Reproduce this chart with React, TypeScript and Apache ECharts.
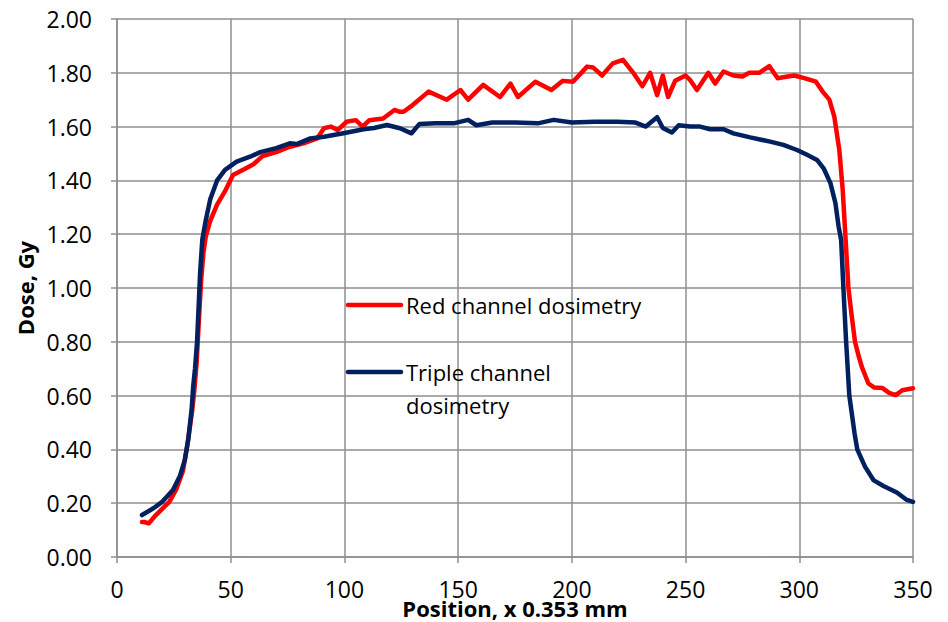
import React, { useEffect, useRef } from "react";
import * as echarts from "echarts";

const redName = "Red channel dosimetry";
const navyName = "Triple channel dosimetry";

const redX = [11, 12, 14, 17, 20, 23, 26, 29, 31, 33, 34, 35, 36, 37, 38, 39, 41, 44, 47.5, 51, 55.5, 60, 64, 70, 76, 82, 88, 91, 94, 97, 101, 105, 108, 111, 117, 122, 124.4, 126, 130, 137, 145, 151, 154.4, 161, 168.4, 173, 176.3, 184, 191, 196, 200.5, 206.7, 209.3, 213.3, 218, 222.5, 227, 231, 234.4, 237.5, 240, 242.3, 245.4, 250, 252, 255, 260, 263, 266.7, 271, 275, 278, 282.4, 286.8, 290.5, 294.2, 297.8, 302.2, 307.3, 310.3, 313.2, 315.4, 317.6, 319.1, 320.3, 321.6, 323, 324.5, 326, 327.5, 330.4, 333, 336.6, 339.5, 342.4, 345.3, 350];
const redY = [0.13, 0.13, 0.125, 0.155, 0.18, 0.205, 0.25, 0.32, 0.42, 0.54, 0.62, 0.72, 0.88, 1.03, 1.13, 1.19, 1.25, 1.31, 1.36, 1.42, 1.44, 1.46, 1.49, 1.505, 1.525, 1.538, 1.556, 1.594, 1.6, 1.587, 1.618, 1.624, 1.6, 1.624, 1.63, 1.662, 1.655, 1.655, 1.68, 1.73, 1.7, 1.736, 1.7, 1.755, 1.71, 1.76, 1.71, 1.767, 1.736, 1.77, 1.767, 1.823, 1.82, 1.79, 1.835, 1.848, 1.8, 1.75, 1.8, 1.717, 1.79, 1.71, 1.77, 1.79, 1.773, 1.736, 1.8, 1.76, 1.805, 1.79, 1.786, 1.8, 1.8, 1.825, 1.78, 1.785, 1.79, 1.78, 1.767, 1.73, 1.7, 1.637, 1.513, 1.364, 1.19, 1.0, 0.9, 0.8, 0.75, 0.707, 0.645, 0.63, 0.628, 0.61, 0.602, 0.62, 0.627];

const navyX = [11, 16, 20, 24.6, 27.6, 29.8, 31.3, 32.8, 33.5, 34.3, 35.2, 36, 36.5, 37.5, 39, 41, 44, 47.5, 52.6, 58.5, 63, 70, 76, 79, 85, 91, 99.6, 108.4, 113, 118.7, 124.4, 129.5, 133, 140, 148, 154.4, 158, 165, 175, 185, 192, 200, 210, 220, 228, 232.5, 237.5, 240, 244, 247, 252, 256.4, 260.8, 266.7, 271, 278.4, 287.2, 293, 299, 303.4, 307.8, 310.7, 313.7, 315.9, 317.3, 318.4, 319.4, 320.6, 322, 324.3, 325.5, 328.9, 332.6, 337, 342.9, 347.3, 350];
const navyY = [0.156, 0.181, 0.206, 0.249, 0.3, 0.36, 0.435, 0.547, 0.633, 0.7, 0.8, 0.95, 1.05, 1.18, 1.25, 1.33, 1.4, 1.439, 1.47, 1.488, 1.505, 1.52, 1.538, 1.535, 1.556, 1.562, 1.575, 1.59, 1.595, 1.606, 1.594, 1.575, 1.61, 1.612, 1.612, 1.625, 1.605, 1.615, 1.615, 1.612, 1.625, 1.615, 1.618, 1.618, 1.615, 1.6, 1.635, 1.595, 1.578, 1.605, 1.6, 1.6, 1.59, 1.59, 1.575, 1.56, 1.544, 1.532, 1.513, 1.495, 1.476, 1.445, 1.39, 1.315, 1.228, 1.178, 1.0, 0.8, 0.6, 0.46, 0.4, 0.336, 0.286, 0.264, 0.24, 0.212, 0.205];

const xTitle = "Position, x 0.353 mm";
const yTitle = "Dose, Gy";

const FONT = "'Open Sans', 'Liberation Sans', sans-serif";
const GRID = "#8f8f8f";

export default function App() {
  const ref = useRef<HTMLDivElement>(null);
  useEffect(() => {
    if (!ref.current) return;
    const chart = echarts.init(ref.current, undefined, { renderer: "svg" });
    const zip = (xs: number[], ys: number[]) => xs.map((x, i) => [x, ys[i]]);
    chart.setOption({
      animation: false,
      backgroundColor: "#ffffff",
      textStyle: { fontFamily: FONT },
      grid: {
        left: 117,
        right: 35,
        top: 19,
        bottom: 65,
        containLabel: false,
        outerBoundsMode: "none",
      },
      xAxis: {
        type: "value",
        min: 0,
        max: 350,
        interval: 50,
        name: xTitle,
        nameLocation: "middle",
        nameGap: 40,
        nameMoveOverlap: false,
        nameTextStyle: { fontFamily: FONT, fontSize: 22, fontWeight: "bold", color: "#000" },
        axisLine: { show: true, lineStyle: { color: GRID, width: 1.5 } },
        axisTick: { show: true, inside: false, length: 6, lineStyle: { color: GRID, width: 1.5 } },
        axisLabel: { fontFamily: FONT, fontSize: 23, color: "#000", margin: 20 },
        splitLine: { show: true, lineStyle: { color: GRID, width: 1.5 } },
      },
      yAxis: {
        type: "value",
        min: 0,
        max: 2,
        interval: 0.2,
        name: yTitle,
        nameLocation: "middle",
        nameGap: 81,
        nameMoveOverlap: false,
        nameRotate: 90,
        nameTextStyle: { fontFamily: FONT, fontSize: 22, fontWeight: "bold", color: "#000" },
        axisLine: { show: true, lineStyle: { color: GRID, width: 1.5 } },
        axisTick: { show: true, inside: false, length: 6, lineStyle: { color: GRID, width: 1.5 } },
        axisLabel: {
          fontFamily: FONT,
          fontSize: 23,
          color: "#000",
          margin: 25,
          formatter: (v: number) => v.toFixed(2),
        },
        splitLine: { show: true, lineStyle: { color: GRID, width: 1.5 } },
      },
      series: [
        {
          name: redName,
          type: "line",
          data: zip(redX, redY),
          showSymbol: false,
          symbol: "none",
          lineStyle: { color: "#ff0000", width: 4.5, join: "round", cap: "round" },
          itemStyle: { color: "#ff0000" },
          z: 3,
        },
        {
          name: navyName,
          type: "line",
          data: zip(navyX, navyY),
          showSymbol: false,
          symbol: "none",
          lineStyle: { color: "#002060", width: 4.5, join: "round", cap: "round" },
          itemStyle: { color: "#002060" },
          z: 4,
        },
      ],
      graphic: [
        {
          type: "line",
          shape: { x1: 348, y1: 305, x2: 401, y2: 305 },
          style: { stroke: "#ff0000", lineWidth: 4.5, lineCap: "round" },
          z: 10,
        },
        {
          type: "text",
          x: 406,
          y: 305,
          style: {
            text: "Red channel dosimetry",
            fontFamily: FONT,
            fontSize: 22,
            fill: "#000",
            verticalAlign: "middle",
            align: "left",
          },
          z: 10,
        },
        {
          type: "line",
          shape: { x1: 348, y1: 372, x2: 401, y2: 372 },
          style: { stroke: "#002060", lineWidth: 4.5, lineCap: "round" },
          z: 10,
        },
        {
          type: "text",
          x: 406,
          y: 355,
          style: {
            text: "Triple channel\ndosimetry",
            fontFamily: FONT,
            fontSize: 22,
            lineHeight: 33,
            fill: "#000",
            verticalAlign: "top",
            align: "left",
          },
          z: 10,
        },
      ],
    });
    return () => chart.dispose();
  }, []);
  return (
    <div
      ref={ref}
      style={{ position: "fixed", left: 0, top: 0, width: 948, height: 622, background: "#fff" }}
    />
  );
}
